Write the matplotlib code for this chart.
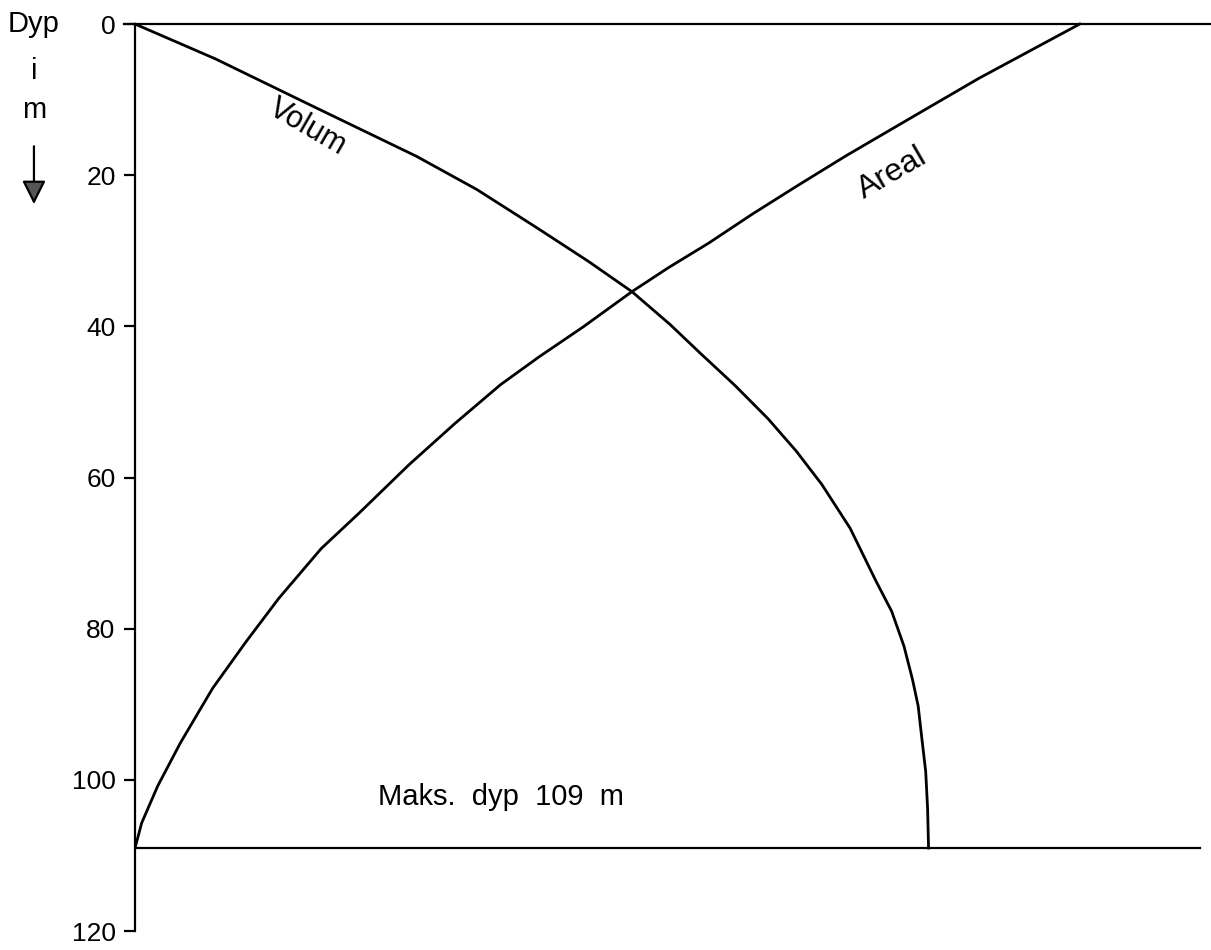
import matplotlib
matplotlib.use("Agg")
import matplotlib.pyplot as plt

plt.rcParams['font.family'] = ['Liberation Sans', 'DejaVu Sans']

# Depth (m) and relative amount (areal at surface = 100)
volum_depth = [0, 4.6, 11.1, 17.5, 21.9, 27.0, 31.4, 35.4, 39.7, 43.5, 47.8, 52.2, 56.5,
               60.9, 66.7, 73.6, 77.7, 82.3, 86.7, 90.2, 94.6, 98.9, 103.8, 109]
volum_value = [0, 8.5, 19.2, 29.8, 36.2, 42.6, 48.0, 52.6, 56.6, 59.8, 63.5, 67.0, 70.0,
               72.7, 75.7, 78.4, 80.1, 81.4, 82.3, 82.9, 83.3, 83.7, 83.9, 84.0]

areal_depth = [0, 7.2, 12.0, 17.4, 21.4, 25.1, 29.0, 32.2, 35.4, 40.1, 44.0, 47.7, 52.8,
               58.3, 64.6, 69.4, 76.0, 81.8, 87.9, 95.1, 100.8, 105.7, 109]
areal_value = [100, 89.3, 82.7, 75.3, 70.1, 65.4, 60.7, 56.5, 52.6, 47.4, 42.8, 38.7, 33.9,
               29.0, 23.8, 19.7, 15.2, 11.7, 8.2, 4.8, 2.4, 0.7, 0]

max_depth = 109
depth_ticks = [0, 20, 40, 60, 80, 100, 120]

fig = plt.figure(figsize=(12.11, 9.5), dpi=100)
ax = fig.add_axes([0.1115, 0.0079, 0.8885, 0.9827])

ax.plot(volum_value, volum_depth, color='black', lw=2.0, solid_joinstyle='round')
ax.plot(areal_value, areal_depth, color='black', lw=2.0, solid_joinstyle='round')

# surface and bottom lines
ax.plot([-1.2, 113.9], [0, 0], color='black', lw=1.6, clip_on=False)
ax.plot([0, 112.7], [max_depth, max_depth], color='black', lw=1.6)

ax.set_xlim(0, 113.9)
ax.set_ylim(121.5, -2)

for side in ['top', 'right', 'bottom']:
    ax.spines[side].set_visible(False)
ax.spines['left'].set_bounds(0, 120)
ax.spines['left'].set_linewidth(1.6)
ax.set_xticks([])
ax.set_yticks(depth_ticks)
ax.tick_params(axis='y', direction='out', length=8, width=1.6, pad=6, labelsize=19)

# labels
ax.text(18.3, 13.6, 'Volum', rotation=-30, ha='center', va='center', fontsize=22)
ax.text(80.2, 19.8, 'Areal', rotation=30, ha='center', va='center', fontsize=23)
ax.text(25.7, 103.3, 'Maks.  dyp  109  m', ha='left', va='baseline', fontsize=21)

ax.text(-10.7, 0, 'Dyp', ha='center', va='center', fontsize=21, clip_on=False)
ax.text(-10.7, 6.2, 'i', ha='center', va='center', fontsize=21, clip_on=False)
ax.text(-10.7, 11.4, 'm', ha='center', va='center', fontsize=21, clip_on=False)
ax.annotate('', xy=(-10.7, 24.2), xytext=(-10.7, 15.8),
            arrowprops=dict(arrowstyle='-|>', facecolor='#555555', edgecolor='black',
                            lw=1.6, mutation_scale=36),
            annotation_clip=False)

fig.savefig('out.png', dpi=100, facecolor='white')
